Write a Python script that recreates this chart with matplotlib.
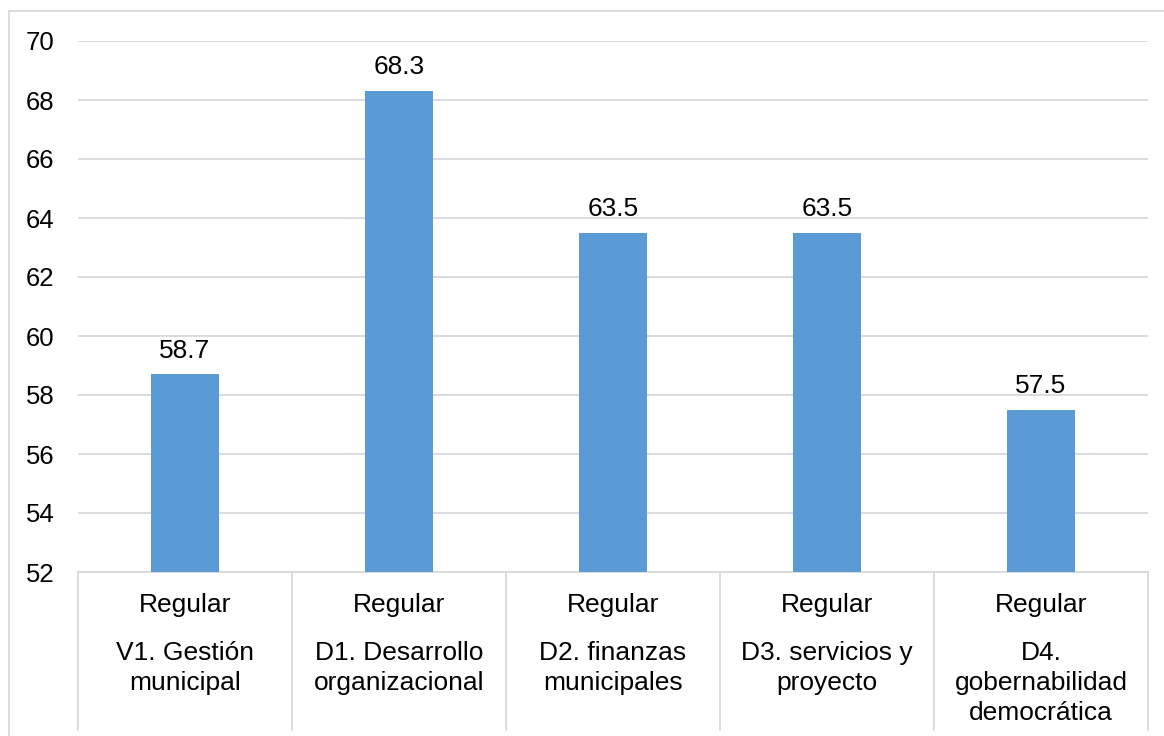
import matplotlib.pyplot as plt
import matplotlib.transforms as mtransforms
from matplotlib.lines import Line2D

plt.rcParams['font.family'] = ['Liberation Sans', 'DejaVu Sans']

categories = ["V1. Gestión\nmunicipal", "D1. Desarrollo\norganizacional",
              "D2. finanzas\nmunicipales", "D3. servicios y\nproyecto",
              "D4.\ngobernabilidad\ndemocrática"]
levels = ["Regular", "Regular", "Regular", "Regular", "Regular"]
values = [58.7, 68.3, 63.5, 63.5, 57.5]
labels = ["58.7", "68.3", "63.5", "63.5", "57.5"]
yticks = [52, 54, 56, 58, 60, 62, 64, 66, 68, 70]

FS = 19

fig = plt.figure(figsize=(11.64, 7.36), dpi=100)
ax = fig.add_axes([78 / 1164, 1 - 572 / 736, 1070 / 1164, 531 / 736])

x = list(range(len(categories)))
bars = ax.bar(x, values, width=0.315, color="#5b9bd5", zorder=3)
for b, lab in zip(bars, labels):
    ax.annotate(lab, (b.get_x() + b.get_width() / 2, b.get_height()),
                xytext=(0, 8.5), textcoords="offset points",
                ha="center", va="bottom", fontsize=FS, color="#000000")

ax.set_xlim(-0.5, len(categories) - 0.5)
ax.set_ylim(52, 70)
ax.set_yticks(yticks)
ax.set_yticklabels([str(t) for t in yticks], fontsize=18.5)
ax.tick_params(axis="y", length=0, pad=17)
ax.set_xticks([])
ax.grid(axis="y", color="#d9d9d9", linewidth=1.3, zorder=0)
for s in ["top", "right", "left"]:
    ax.spines[s].set_visible(False)
ax.spines["bottom"].set_color("#d9d9d9")
ax.spines["bottom"].set_linewidth(1.3)

# category box below the axis
trans = mtransforms.blended_transform_factory(ax.transData, ax.transAxes)
for i in range(len(categories) + 1):
    ax.plot([i - 0.5, i - 0.5], [0, -158 / 531], transform=trans,
            color="#d9d9d9", linewidth=1.3, clip_on=False)
for i, (lv, cat) in enumerate(zip(levels, categories)):
    ax.text(i, -33 / 531, lv, transform=trans, ha="center", va="center", fontsize=FS)
    for k, line in enumerate(cat.split("\n")):
        ax.text(i, -(81 + 30 * k) / 531, line, transform=trans,
                ha="center", va="center", fontsize=FS)

# outer chart border
fig.add_artist(Line2D([9 / 1164, 9 / 1164], [0, 1 - 11 / 736],
                      transform=fig.transFigure, color="#d9d9d9", linewidth=1.3))
fig.add_artist(Line2D([9 / 1164, 1], [1 - 11 / 736, 1 - 11 / 736],
                      transform=fig.transFigure, color="#d9d9d9", linewidth=1.3))

fig.savefig("out.png", dpi=100)
